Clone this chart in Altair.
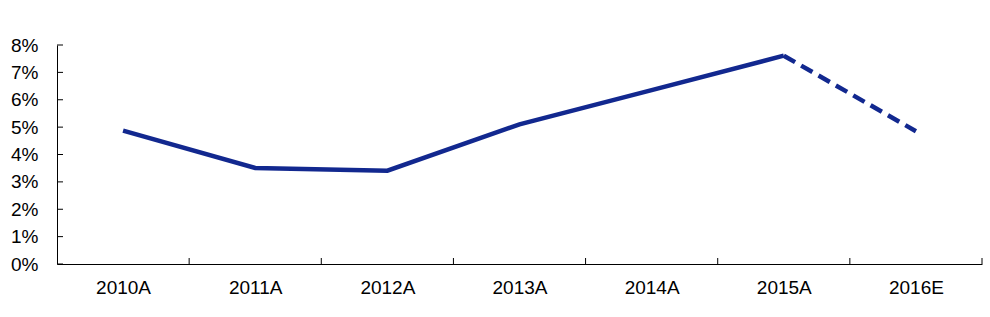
import altair as alt
import pandas as pd

years = ["2010A", "2011A", "2012A", "2013A", "2014A", "2015A", "2016E"]
values = [0.0487, 0.0351, 0.0341, 0.0510, 0.0635, 0.0761, 0.0485]
y_ticks = [0, 0.01, 0.02, 0.03, 0.04, 0.05, 0.06, 0.07, 0.08]
x_tick_pos = [1, 2, 3, 4, 5, 6, 7]

W, H = 925, 219
COLOR = "#12288F"
FONT = "Liberation Sans"
FS = 19

df = pd.DataFrame({"year": years, "value": values})
solid = df.iloc[:6]
dashed = df.iloc[5:]
ytick_df = pd.DataFrame({"value": y_ticks})
xtick_df = pd.DataFrame({"pos": x_tick_pos})

xscale = alt.Scale(type="point", padding=0.5, domain=years)
yscale = alt.Scale(domain=[0, 0.08], nice=False)

xaxis = alt.Axis(
    title=None, labelAngle=0, ticks=False, tickSize=0, labelPadding=14,
    labelFont=FONT, labelFontSize=FS, labelColor="black",
    domainColor="black", domainWidth=1, grid=False,
)
yaxis = alt.Axis(
    title=None, format=".0%", values=y_ticks, ticks=False, tickSize=0,
    labelPadding=19, labelFont=FONT, labelFontSize=FS, labelColor="black",
    labelOverlap=False, domainColor="black", domainWidth=1, grid=False,
)


def xenc():
    return alt.X("year:N", sort=years, scale=xscale, axis=xaxis)


def yenc():
    return alt.Y("value:Q", scale=yscale, axis=yaxis)


line_solid = alt.Chart(solid).mark_line(color=COLOR, strokeWidth=4.5, strokeJoin="miter").encode(
    x=xenc(), y=yenc()
)
line_dash = alt.Chart(dashed).mark_line(color=COLOR, strokeWidth=4.5, strokeDash=[13, 7]).encode(
    x=xenc(), y=yenc()
)
yticks = alt.Chart(ytick_df).mark_rule(color="black", strokeWidth=1).encode(
    y=yenc(), x=alt.value(0), x2=alt.value(6)
)
xticks = alt.Chart(xtick_df).mark_rule(color="black", strokeWidth=1).encode(
    x=alt.X("pos:Q", scale=alt.Scale(domain=[0, 7], nice=False, zero=True), axis=None),
    y=alt.value(H - 6), y2=alt.value(H),
)

lines = alt.layer(line_solid, line_dash, yticks)
chart = alt.layer(lines, xticks).resolve_scale(x="independent").properties(
    width=W, height=H,
    background="white",
    autosize=alt.AutoSizeParams(type="none"),
    padding={"left": 57, "top": 45, "right": 8, "bottom": 53},
).configure_view(strokeWidth=0, stroke=None).configure_axis(
    grid=False, labelFont=FONT, labelFontSize=FS, labelColor="black"
)

chart.save("out.html", embed_options={"renderer": "svg", "actions": False})
